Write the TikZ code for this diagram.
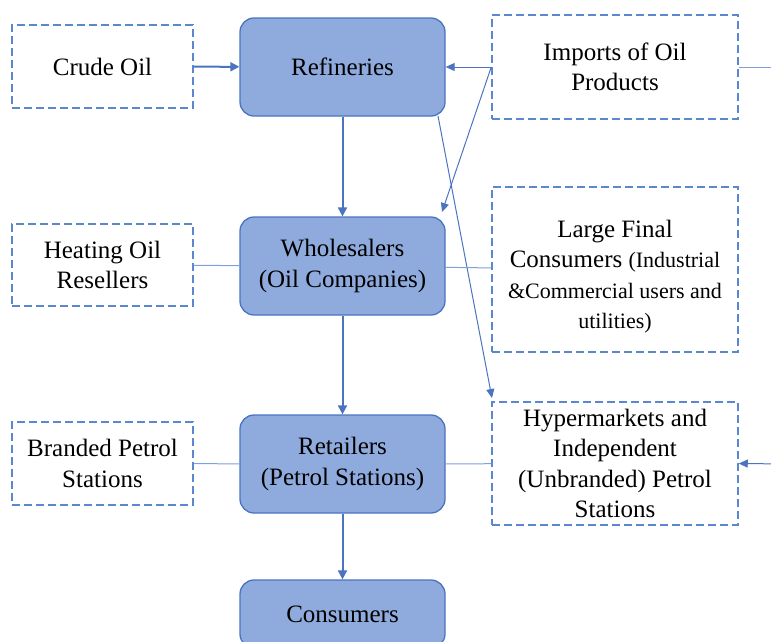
\documentclass[tikz,border=0pt]{standalone}
\usepackage{fontspec}
\setmainfont{Liberation Serif}
\usetikzlibrary{arrows.meta}
\definecolor{boxfill}{HTML}{8FAADC}
\definecolor{boxline}{HTML}{4A74C0}
\definecolor{dashline}{HTML}{5B86D0}
\definecolor{linkline}{HTML}{7FA0DA}
\begin{document}
\begin{tikzpicture}[x=1pt,y=-1pt,
  mainbox/.style={draw=boxline, fill=boxfill, rounded corners=14pt, line width=1.3pt,
    minimum width=205pt, minimum height=98pt, inner sep=0pt, align=center,
    font=\fontsize{25}{30.5}\selectfont},
  sidebox/.style={draw=dashline, dash pattern=on 8pt off 4pt, line width=1.5pt,
    inner sep=0pt, align=center, font=\fontsize{25}{30.5}\selectfont},
  flow/.style={draw=boxline, line width=2pt, -{Triangle[length=9pt,width=9pt]}},
  link/.style={draw=linkline, line width=1pt},
  linkarrow/.style={draw=boxline, line width=1pt, -{Triangle[length=9pt,width=8pt]}}
]
\useasboundingbox (0,0) rectangle (771,641);
\clip (0,0) rectangle (771,641);

% main column
\node[mainbox] (ref) at (342.5,67) {Refineries};
\node[mainbox] (whole) at (342.5,266) {Wholesalers\\(Oil Companies)};
\node[mainbox] (ret) at (342.5,464) {Retailers\\(Petrol Stations)};
\node[mainbox, minimum height=68pt] (cons) at (342.5,614) {Consumers};

% left side
\node[sidebox, minimum width=181pt, minimum height=83pt] (crude) at (102.5,66.5) {Crude Oil};
\node[sidebox, minimum width=181pt, minimum height=82pt] (heat) at (102.5,265) {Heating Oil\\Resellers};
\node[sidebox, minimum width=181pt, minimum height=83pt] (brand) at (102.5,463.5) {Branded Petrol\\Stations};

% right side
\node[sidebox, minimum width=246pt, minimum height=104pt] (imp) at (615,67) {Imports of Oil\\Products};
\node[sidebox, minimum width=246pt, minimum height=165pt] (large) at (615,269.5)
  {\rule{0pt}{32pt}Large Final\\Consumers {\fontsize{22}{28}\selectfont (Industrial}\\
   {\fontsize{22}{28}\selectfont \&Commercial users and}\\
   {\fontsize{22}{28}\selectfont utilities)}};
\node[sidebox, minimum width=246pt, minimum height=123pt] (hyper) at (615,463.5)
  {Hypermarkets and\\Independent\\(Unbranded) Petrol\\Stations};

% off-picture ends
\coordinate (impout) at (790,67);
\coordinate (hypin) at (790,464);
\coordinate (wholetr) at (442,212);
\coordinate (refbr) at (438,116);
\coordinate (hyptl) at (492,398);

% connectors
\draw[flow] (crude) -- (ref);
\draw[flow] (ref) -- (whole);
\draw[flow] (whole) -- (ret);
\draw[flow] (ret) -- (cons);
\draw[linkarrow] (imp.west) -- (ref.east);
\draw[linkarrow] (imp.west) -- (wholetr);
\draw[linkarrow] (refbr) -- (hyptl);
\draw[link] (heat) -- (whole);
\draw[link] (whole) -- (large);
\draw[link] (brand) -- (ret);
\draw[link] (ret) -- (hyper);
\draw[link] (imp.east) -- (impout);
\draw[linkarrow] (hypin) -- (hyper.east);
\end{tikzpicture}
\end{document}
